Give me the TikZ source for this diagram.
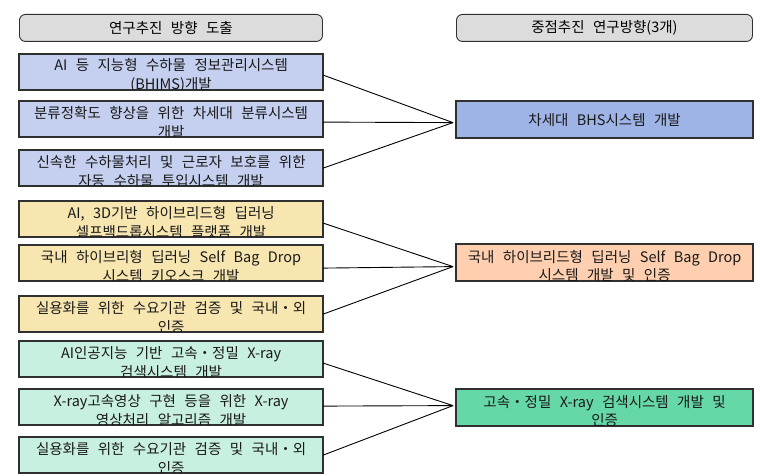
\documentclass[tikz,border=0pt]{standalone}
\usepackage{fontspec}
\setmainfont[WordSpace=2.6]{Noto Sans CJK KR}
\usetikzlibrary{calc}
\definecolor{lblue}{HTML}{C5D0F0}
\definecolor{rblue}{HTML}{9FB4E6}
\definecolor{lorange}{HTML}{F8E6B0}
\definecolor{rorange}{HTML}{FFCFAF}
\definecolor{lgreen}{HTML}{C8F0E0}
\definecolor{rgreen}{HTML}{66D8A8}
\definecolor{hgray}{HTML}{DCDCDC}
\definecolor{edge}{HTML}{303030}
\tikzset{
  boxstyle/.style={draw=edge, line width=1.2pt, minimum width=303pt, minimum height=35pt, inner sep=0pt, anchor=north west},
  rboxstyle/.style={draw=edge, line width=1.2pt, minimum width=296pt, minimum height=36pt, inner sep=0pt, anchor=north west},
  hdr/.style={draw=edge, line width=0.9pt, fill=hgray, rounded corners=6pt, minimum height=27pt, inner sep=0pt, anchor=north west, font=\fontsize{14.5pt}{16pt}\selectfont},
  txt/.style={align=center, inner sep=0pt, font=\fontsize{14.5pt}{18.5pt}\selectfont, text=black!90},
  conn/.style={draw=black, line width=0.9pt},
}
\newcommand\mkbox[5]{%
  \node[#2, fill=#3] (#1) at #4 {};
  \begin{scope}
    \clip (#1.north west) rectangle (#1.south east);
    \node[txt] (#1t) at ($(#1.center)+(0,3.5)$) {#5};
  \end{scope}
  \draw[draw=edge, line width=1.2pt] (#1.north west) rectangle (#1.south east);
}
\begin{document}
\begin{tikzpicture}[x=1pt,y=-1pt]
\useasboundingbox[fill=white] (0,0) rectangle (760,476);
% headers
\node[hdr, minimum width=303pt] (h1) at (19,14) {연구추진 방향 도출};
\node[hdr, minimum width=296pt] (h2) at (456,14) {중점추진 연구방향(3개)};
% left boxes
\mkbox{b1}{boxstyle}{lblue}{(19,54)}{AI 등 지능형 수하물 정보관리시스템\\(BHIMS)개발}
\mkbox{b2}{boxstyle}{lblue}{(19,101)}{분류정확도 향상을 위한 차세대 분류시스템\\개발}
\mkbox{b3}{boxstyle}{lblue}{(19,150)}{신속한 수하물처리 및 근로자 보호를 위한\\자동 수하물 투입시스템 개발}
\mkbox{b4}{boxstyle}{lorange}{(19,201)}{AI, 3D기반 하이브리드형 딥러닝\\셀프백드롭시스템 플랫폼 개발}
\mkbox{b5}{boxstyle}{lorange}{(19,245)}{국내 하이브리형 딥러닝 Self Bag Drop\\시스템 키오스크 개발}
\mkbox{b6}{boxstyle}{lorange}{(19,296)}{실용화를 위한 수요기관 검증 및 국내・외\\인증}
\mkbox{b7}{boxstyle}{lgreen}{(19,341)}{AI인공지능 기반 고속・정밀 X-ray\\검색시스템 개발}
\mkbox{b8}{boxstyle}{lgreen}{(19,389)}{X-ray고속영상 구현 등을 위한 X-ray\\영상처리 알고리즘 개발}
\mkbox{b9}{boxstyle}{lgreen}{(19,437)}{실용화를 위한 수요기관 검증 및 국내・외\\인증}
% right boxes
\node[rboxstyle, fill=rblue] (r1) at (456,101) {};
\node[txt] (r1t) at (r1.center) {차세대 BHS시스템 개발};
\draw[draw=edge, line width=1.2pt] (r1.north west) rectangle (r1.south east);
\mkbox{r2}{rboxstyle}{rorange}{(456,244)}{국내 하이브리드형 딥러닝 Self Bag Drop\\시스템 개발 및 인증}
\mkbox{r3}{rboxstyle}{rgreen}{(456,389)}{고속・정밀 X-ray 검색시스템 개발 및\\인증}
% convergence points
\coordinate (c1) at ($(r1.west)+(-3,3)$);
\coordinate (c2) at ($(r2.west)+(-3,4)$);
\coordinate (c3) at ($(r3.west)+(-3,-2)$);
% connectors
\draw[conn] ($(b1.east)+(0,3)$) -- (c1);
\draw[conn] ($(b2.east)+(0,3)$) -- (c1);
\draw[conn] (b3.east) -- (c1);
\draw[conn] ($(b4.east)+(0,4)$) -- (c2);
\draw[conn] ($(b5.east)+(0,5)$) -- (c2);
\draw[conn] (b6.east) -- (c2);
\draw[conn] ($(b7.east)+(0,4)$) -- (c3);
\draw[conn] ($(b8.east)+(0,-1)$) -- (c3);
\draw[conn] (b9.east) -- (c3);
\end{tikzpicture}
\end{document}
